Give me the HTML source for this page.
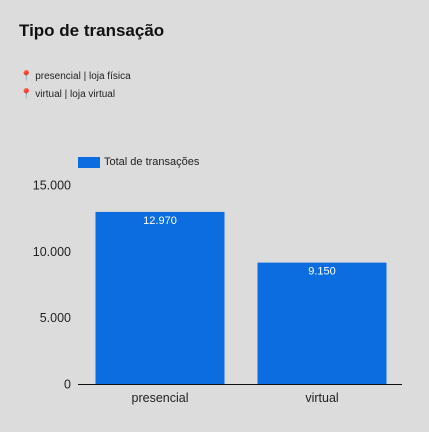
<!DOCTYPE html>
<html><head><meta charset="utf-8"><style>
html,body{margin:0;padding:0;}
body{width:429px;height:432px;background:#dcdcdc;font-family:"Liberation Sans",Arial,sans-serif;position:relative;overflow:hidden;}
.t{position:absolute;white-space:nowrap;}
</style></head><body>
<div class="t" style="left:19px;top:21px;font-size:17px;font-weight:bold;color:#111;">Tipo de transação</div>
<div class="t" style="left:20px;top:71px;font-size:10px;color:#222;"><span style="color:#d22;font-size:10px;">📍</span> presencial | loja física</div>
<div class="t" style="left:20px;top:89px;font-size:10px;color:#222;"><span style="color:#d22;font-size:10px;">📍</span> virtual | loja virtual</div>
<div style="position:absolute;left:78px;top:157px;width:22px;height:11px;background:#0b6ddf;"></div>
<div class="t" style="left:104px;top:156px;font-size:11px;color:#222;">Total de transações</div>
<svg id="chart" width="429" height="432" style="position:absolute;left:0;top:0;"></svg>
<script>
const categories=["presencial","virtual"];
const values=[12970,9150];
const valueLabels=["12.970","9.150"];
const ticks=[0,5000,10000,15000];
const tickLabels=["0","5.000","10.000","15.000"];
const svg=document.getElementById('chart');
const NS="http://www.w3.org/2000/svg";
const y0=384,yTop=185,yMax=15000;
const y=v=>y0-(v/yMax)*(y0-yTop);
const xL=79,xR=403,bw=129;
const band=(xR-xL)/categories.length;
const x=i=>xL+band*i+(band-bw)/2;
function mk(t,a){const e=document.createElementNS(NS,t);for(const k in a)e.setAttribute(k,a[k]);svg.appendChild(e);return e;}
ticks.forEach((v,i)=>{
  const e=mk('text',{x:71,y:y(v)+4.5,'text-anchor':'end','font-size':12.5,fill:'#222','font-family':'Liberation Sans, sans-serif'});
  e.textContent=tickLabels[i];
  
  
});
categories.forEach((c,i)=>{
  const r=mk('rect',{x:x(i),y:y(values[i]),width:bw,height:y0-y(values[i]),fill:'#0b6ddf'});
  
  
  const vl=mk('text',{x:x(i)+bw/2,y:y(values[i])+12,'text-anchor':'middle','font-size':11,fill:'#fff','font-family':'Liberation Sans, sans-serif'});
  vl.textContent=valueLabels[i];
  
  
  const cl=mk('text',{x:x(i)+bw/2,y:402,'text-anchor':'middle','font-size':12.5,fill:'#222','font-family':'Liberation Sans, sans-serif'});
  cl.textContent=c;
  
  
});
const ax=mk('line',{x1:xL-1,x2:xR-1,y1:y0+0.5,y2:y0+0.5,stroke:'#111','stroke-width':1});


</script>
</body></html>
